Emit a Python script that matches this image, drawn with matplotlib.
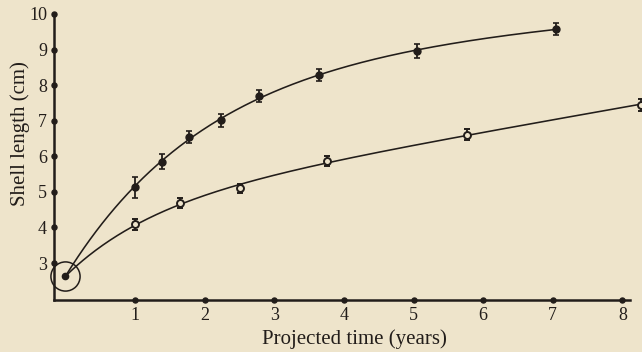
import numpy as np
import matplotlib
matplotlib.use("Agg")
import matplotlib.pyplot as plt

# Shell growth, projected from the common starting size at time zero
start_time = 0.0
start_length = 2.63

closed_time = [1.0, 1.38, 1.78, 2.23, 2.78, 3.64, 5.05, 7.04]
closed_length = [5.13, 5.85, 6.53, 7.01, 7.70, 8.28, 8.95, 9.58]
closed_err = [0.30, 0.21, 0.17, 0.19, 0.17, 0.17, 0.20, 0.17]

open_time = [1.0, 1.65, 2.51, 3.76, 5.77, 8.27]
open_length = [4.09, 4.68, 5.10, 5.87, 6.61, 7.45]
open_err = [0.16, 0.14, 0.12, 0.15, 0.16, 0.17]

x_ticks = [1, 2, 3, 4, 5, 6, 7, 8]
y_ticks = [3, 4, 5, 6, 7, 8, 9, 10]

PAPER = "#eee4cb"
INK = "#221d1a"
SERIF = ["Liberation Serif", "DejaVu Serif"]


def growth_fit(t, y, t0, y0):
    """Least-squares fit of y = a + b*exp(-k t) + c*t, pinned at (t0, y0).

    k is chosen by a simple scan; the result is a smooth concave curve.
    """
    t = np.asarray([t0] + list(t), float)
    y = np.asarray([y0] + list(y), float)
    w = np.ones_like(t)
    w[0] = 50.0
    best = None
    for k in np.linspace(0.05, 3.0, 300):
        basis = np.column_stack([np.ones_like(t), np.exp(-k * t), t])
        coef, *_ = np.linalg.lstsq(basis * w[:, None], y * w, rcond=None)
        resid = np.sum((w * (basis @ coef - y)) ** 2)
        if best is None or resid < best[0]:
            best = (resid, k, coef)
    _, k, (a, b, c) = best
    return lambda s: a + b * np.exp(-k * s) + c * s


fig = plt.figure(figsize=(6.42, 3.52), dpi=100, facecolor=PAPER)
ax = fig.add_axes([54 / 642, 52 / 352, 576 / 642, 286 / 352])
ax.set_facecolor(PAPER)
ax.set_xlim(-0.165, 8.11)
ax.set_ylim(1.96, 10.0)

for s in ("top", "right"):
    ax.spines[s].set_visible(False)
for s in ("left", "bottom"):
    ax.spines[s].set_color(INK)
    ax.spines[s].set_linewidth(1.8)

# smooth growth curves from the starting point through each series
for tx, ly in ((closed_time, closed_length), (open_time, open_length)):
    curve = growth_fit(tx, ly, start_time, start_length)
    xs = np.linspace(start_time, max(tx), 400)
    ax.plot(xs, curve(xs), color=INK, lw=1.15, clip_on=False, zorder=2)

ax.errorbar(closed_time, closed_length, yerr=closed_err, fmt="o", ms=5,
            mfc=INK, mec=INK, ecolor=INK, elinewidth=1.3, capsize=2.2,
            capthick=1.2, clip_on=False, zorder=3)
ax.errorbar(open_time, open_length, yerr=open_err, fmt="o", ms=5,
            mfc=PAPER, mec=INK, mew=1.4, ecolor=INK, elinewidth=1.3,
            capsize=2.2, capthick=1.2, clip_on=False, zorder=3)

# circled starting point
ax.plot([start_time], [start_length], "o", ms=4.5, color=INK, zorder=4,
        clip_on=False)
ax.plot([start_time], [start_length], "o", ms=21, mfc="none", mec=INK,
        mew=1.1, zorder=4, clip_on=False)

# ticks drawn as small dots sitting on the axes
x0, _ = ax.get_xlim()
y0, _ = ax.get_ylim()
ax.plot(x_ticks, [y0] * len(x_ticks), "o", ms=3.6, color=INK,
        clip_on=False, zorder=5)
ax.plot([x0] * len(y_ticks), y_ticks, "o", ms=3.6, color=INK,
        clip_on=False, zorder=5)

ax.set_xticks(x_ticks)
ax.set_yticks(y_ticks)
ax.set_xticklabels([str(v) for v in x_ticks], family=SERIF, fontsize=13,
                   color=INK)
ax.set_yticklabels([str(v) for v in y_ticks], family=SERIF, fontsize=13,
                   color=INK)
ax.tick_params(axis="x", length=0, pad=5)
ax.tick_params(axis="y", length=0, pad=5)

fig.text(354 / 642, 1 - 339 / 352, "Projected time (years)", family=SERIF,
         fontsize=15, color=INK, ha="center", va="center")
fig.text(20 / 642, 1 - 134 / 352, "Shell length (cm)", family=SERIF,
         fontsize=15, color=INK, ha="center", va="center", rotation=90)

fig.savefig("out.png", dpi=100, facecolor=PAPER)
